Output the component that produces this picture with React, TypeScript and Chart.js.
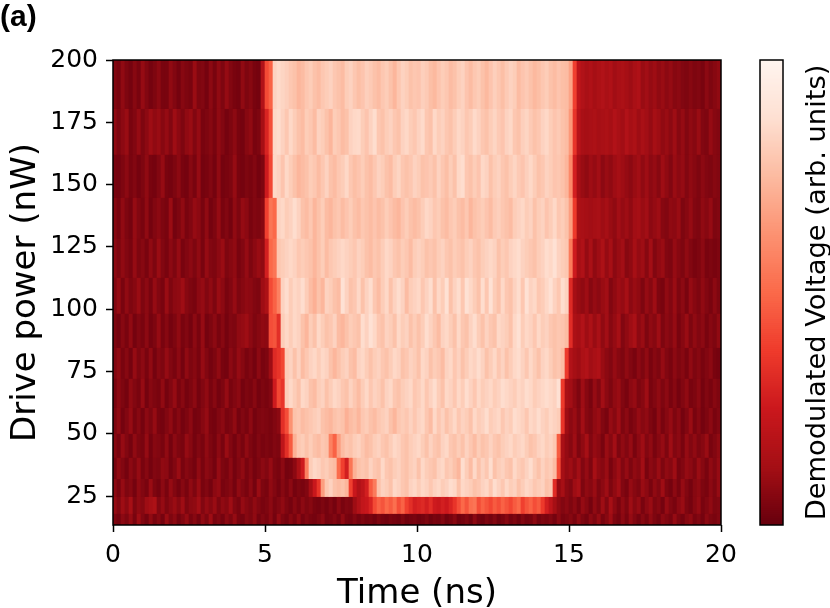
import React, { useEffect, useRef } from "react";
import { Chart, registerables } from "chart.js";

Chart.register(...registerables);

const FONT = "'DejaVu Sans'";
const xTicks = [0, 5, 10, 15, 20];
const yTicks = [25, 50, 75, 100, 125, 150, 175, 200];
const powerEdges = [200, 180.7, 162.3, 145.0, 128.6, 112.9, 98.5, 84.8, 72.4, 60.7, 50.3, 40.7, 32.2, 25.0, 18.2, 13.4];
const COLS = 152;
const VALUE_SCALE = 0.92;
const redsStops = ["#67000d", "#a50f15", "#cb181d", "#ef3b2c", "#fb6a4a", "#fc9272", "#fcbba1", "#fee0d2", "#fff5f0"];

const row01 = [
  6,4,9,5,3,7,4,10,6,3,5,8,4,4,9,6,3,7,5,4,11,5,6,3,8,4,9,5,10,6,4,3,9,5,7,4,3,18,
  45,52,90,93,91,89,86,84,80,82,86,88,84,82,86,88,90,86,84,82,88,90,86,83,85,89,87,84,82,86,88,84,80,86,90,88,84,86,
  85,89,87,83,81,85,88,86,82,84,88,90,85,82,86,88,84,81,85,89,86,83,87,90,88,82,85,87,84,81,83,86,88,84,82,85,83,82,
  74,42,22,18,15,17,14,16,18,15,17,13,15,16,14,12,15,17,11,13,10,12,9,11,8,10,7,8,6,5,7,5,6,4,8,5,7,9,
];
const row02 = [
  9,5,8,11,4,6,10,5,8,12,9,11,7,10,6,12,8,5,9,11,6,10,4,5,7,4,9,6,3,5,8,4,3,7,9,4,5,14,
  32,46,92,94,90,86,92,88,84,82,88,86,82,90,88,84,80,88,86,82,84,90,92,93,88,85,90,94,86,84,88,90,86,84,90,92,88,86,
  90,93,86,84,92,88,90,86,84,88,92,90,86,88,93,90,86,84,88,91,87,85,90,92,86,84,89,91,87,84,86,90,92,88,85,87,84,82,
  70,38,20,15,14,15,16,14,15,16,14,18,15,13,18,14,16,12,15,13,10,14,12,9,11,8,12,7,10,6,9,7,11,6,5,10,7,6,
];
const row03 = [
  4,3,5,8,4,6,3,5,9,4,3,6,10,4,3,5,8,4,3,7,4,10,3,4,6,3,9,3,4,5,10,4,3,5,4,6,3,5,
  28,44,92,90,85,92,88,84,80,82,84,88,86,82,86,90,84,82,86,88,92,86,83,85,88,84,82,86,90,88,84,82,88,91,86,84,86,90,
  88,84,85,87,84,90,86,83,88,84,92,94,86,84,88,85,92,90,84,88,90,86,84,88,91,87,85,89,92,88,84,86,90,88,85,86,84,80,
  65,30,14,11,9,12,10,13,8,11,9,12,14,12,10,8,11,13,9,12,8,10,7,12,9,6,11,8,10,6,9,7,5,8,6,5,7,6,
];
const row04 = [
  7,4,9,5,3,10,6,4,9,3,6,8,5,4,11,3,5,9,4,6,10,8,4,9,3,5,10,4,6,3,9,5,10,8,4,6,5,7,
  42,58,54,90,92,88,90,94,90,84,82,86,80,84,88,82,80,84,86,82,85,88,84,82,86,84,82,85,82,84,88,85,82,80,85,88,84,82,
  84,88,92,90,86,88,84,82,86,88,84,82,86,80,84,86,88,85,82,87,89,86,84,82,88,90,92,88,90,84,88,90,85,88,92,86,88,84,
  72,40,16,15,14,13,14,15,12,14,11,9,13,10,12,9,13,14,11,13,8,10,12,7,6,9,8,11,5,7,10,6,5,9,7,10,5,6,
];
const row05 = [
  8,5,9,6,4,10,5,7,4,9,5,11,6,4,8,5,10,4,6,8,5,9,4,10,6,5,8,11,5,7,9,4,6,10,5,8,11,9,
  30,54,58,86,88,90,92,90,86,88,86,84,80,84,88,82,86,88,90,92,90,88,86,90,88,84,82,86,84,88,92,90,86,84,88,86,82,88,
  90,88,84,86,84,88,90,86,84,88,86,84,88,90,86,84,88,90,92,90,84,88,86,90,92,94,90,88,86,84,88,90,94,92,96,90,88,86,
  60,28,14,17,10,15,9,12,16,10,14,8,11,13,7,9,14,10,12,7,13,6,9,11,6,5,10,7,5,9,6,4,5,8,4,5,4,5,
];
const row06 = [
  6,10,4,9,5,7,11,5,8,4,10,6,4,11,5,8,9,12,7,5,4,8,10,6,9,5,11,8,4,6,10,5,7,9,8,6,5,12,
  16,45,52,62,90,94,88,92,90,94,88,82,78,84,80,90,88,84,82,96,90,84,86,92,84,90,94,86,82,88,92,84,90,94,90,82,88,90,
  92,86,90,94,84,92,88,96,84,90,94,86,96,92,88,84,94,86,96,88,84,92,86,84,90,94,86,96,90,92,86,88,92,96,90,86,94,90,
  34,14,11,9,12,7,10,8,11,13,6,9,12,10,14,8,11,9,5,10,7,12,5,4,9,6,11,5,8,4,10,7,5,9,6,4,8,5,
];
const row07 = [
  5,3,7,4,9,3,6,4,8,3,5,10,4,7,3,5,9,4,6,3,8,4,10,3,5,8,4,7,3,6,5,9,10,12,8,5,7,9,
  8,46,48,36,88,92,88,92,90,84,80,88,84,92,88,84,86,90,82,80,84,88,86,84,94,90,96,92,86,84,90,88,84,92,88,90,84,88,
  84,88,94,90,86,82,90,92,88,84,92,86,84,90,94,88,84,90,86,84,92,90,88,84,92,96,88,92,90,86,92,88,90,86,84,86,85,82,
  35,16,14,18,12,16,11,15,9,13,7,10,14,6,9,12,15,8,11,5,9,7,12,5,8,6,10,4,7,11,5,9,6,8,4,7,5,9,
];
const row08 = [
  6,9,4,7,3,10,5,8,4,9,3,7,5,10,6,4,8,3,9,5,7,4,10,6,3,5,9,4,3,8,5,10,7,4,6,3,8,4,
  5,12,34,38,44,88,90,84,90,82,86,90,92,88,92,90,84,80,84,88,90,84,82,90,92,88,84,88,90,86,84,88,92,90,84,86,90,88,
  84,92,90,84,88,86,82,90,92,86,90,84,88,92,90,94,90,84,88,92,86,90,84,88,92,94,90,86,92,88,84,90,92,88,84,86,82,40,
  18,14,12,16,18,13,15,17,11,8,6,10,7,5,9,6,4,8,5,9,4,7,5,10,6,4,8,5,7,4,9,5,7,4,6,8,4,3,
];
const row09 = [
  4,8,5,3,9,6,4,10,3,7,5,4,9,3,6,10,4,7,3,5,8,3,6,9,4,7,3,5,10,4,6,8,3,5,4,7,3,5,
  4,6,28,44,38,88,92,88,84,92,90,84,82,88,90,84,88,92,90,86,84,90,86,82,88,92,86,90,88,84,90,92,86,84,88,90,92,86,
  88,92,86,90,94,88,84,92,90,86,92,88,94,90,86,92,88,90,92,88,90,94,92,90,88,92,90,94,92,88,90,92,94,92,90,96,40,15,
  13,9,5,12,7,4,10,6,13,8,5,9,11,6,4,8,10,5,7,12,4,6,9,5,8,4,7,3,6,9,4,5,8,3,6,4,7,5,
];
const row10 = [
  5,9,3,6,10,4,7,3,8,5,10,4,3,6,9,4,7,3,5,8,3,4,7,10,4,3,6,8,4,5,9,3,6,4,8,3,5,6,
  5,4,6,8,36,46,68,84,86,82,84,86,88,90,84,82,80,84,86,84,78,82,84,80,86,88,84,82,86,88,90,84,80,86,88,86,90,86,
  90,92,86,82,92,86,90,84,88,92,86,90,88,84,92,88,90,94,88,90,92,86,90,88,94,92,90,86,92,90,94,90,88,92,90,88,38,12,
  8,11,6,13,7,5,9,11,6,4,10,7,12,5,8,4,6,10,7,9,5,3,9,4,7,10,5,8,3,6,11,4,7,3,5,8,4,6,
];
const row11 = [
  7,4,10,6,3,9,5,4,10,3,7,6,4,9,3,8,5,4,10,7,3,6,4,9,5,3,8,4,11,6,3,7,4,9,5,3,6,4,
  5,4,6,5,22,36,50,78,86,88,84,88,84,82,86,84,62,52,72,82,86,84,88,90,86,82,84,88,90,86,84,88,92,90,86,84,88,90,
  92,88,84,90,86,84,90,92,86,84,88,84,90,86,82,88,84,86,90,86,84,88,90,92,88,90,92,88,84,86,90,92,88,90,86,50,15,10,
  7,12,5,9,14,6,10,8,4,11,7,13,5,9,6,10,4,8,12,6,9,4,7,10,5,12,6,8,4,10,6,9,5,7,11,4,6,9,
];
const row12 = [
  4,9,6,3,8,5,10,4,7,3,6,5,9,8,3,6,11,4,7,5,3,9,4,8,6,3,10,5,4,8,3,6,9,4,7,3,5,8,
  6,10,5,4,8,3,4,8,16,28,62,88,92,90,86,88,84,82,55,42,30,58,78,84,86,84,90,86,84,92,86,84,88,90,86,84,88,90,
  84,92,88,86,84,90,92,86,88,84,80,94,88,82,92,84,90,86,94,84,88,90,86,84,92,88,86,90,94,88,84,90,86,88,82,45,14,10,
  12,8,13,6,10,5,14,9,7,11,4,8,12,6,10,5,9,7,13,4,8,6,11,5,9,7,12,4,6,10,8,5,11,7,4,9,6,10,
];
const row13 = [
  8,4,10,5,7,3,9,6,4,11,5,3,8,4,10,6,3,7,4,9,5,11,4,6,3,8,10,4,5,7,3,9,6,4,8,3,11,5,
  4,9,6,3,7,4,8,3,5,4,6,14,26,38,72,86,90,84,82,84,80,42,26,18,22,30,50,60,84,90,88,84,92,90,86,84,90,92,
  88,92,90,86,90,92,88,90,94,92,84,92,90,88,84,86,90,92,86,94,90,86,92,88,90,84,88,92,90,86,88,90,84,86,35,10,14,8,
  6,12,15,5,9,7,11,5,8,12,5,9,13,6,4,10,7,5,11,8,4,9,6,12,5,3,8,4,10,6,3,7,9,5,4,8,5,10,
];
const row14 = [
  10,6,12,8,14,5,9,7,12,14,16,6,10,5,8,11,7,12,5,8,9,13,6,10,7,11,5,9,7,12,6,4,10,7,5,9,6,4,
  5,8,4,6,9,5,3,7,4,8,5,7,4,3,5,3,6,3,8,4,6,5,12,18,24,26,32,45,52,48,54,50,56,46,52,42,36,30,
  32,34,30,35,28,26,30,27,32,38,46,54,48,56,58,46,52,48,44,50,46,52,48,44,50,54,42,48,52,46,50,40,30,22,14,9,6,8,
  5,8,4,10,7,3,9,5,12,6,14,8,4,9,5,12,7,10,4,8,11,5,7,3,10,6,4,8,11,5,3,7,10,4,6,9,5,6,
];
const row15 = [
  5,3,8,5,10,4,12,6,3,9,4,7,3,11,5,8,3,6,10,4,7,3,9,5,12,4,6,3,8,5,10,4,3,7,5,9,3,6,
  4,8,3,10,5,3,7,4,9,3,6,4,3,5,8,3,4,6,3,9,4,3,6,3,5,3,4,2,5,3,2,4,3,2,5,2,3,4,
  2,3,5,2,4,3,6,2,4,7,2,3,5,2,8,3,2,5,3,6,2,4,7,3,5,2,6,3,4,8,3,5,4,6,3,8,4,5,
  7,4,9,5,3,8,5,10,4,7,12,5,3,8,4,10,6,3,7,4,9,5,3,8,6,4,10,5,3,7,9,4,6,3,8,5,4,6,
];
const rows = [row01, row02, row03, row04, row05, row06, row07, row08, row09, row10, row11, row12, row13, row14, row15];

function reds(v: number): string {
  const p = Math.max(0, Math.min(100, v)) / 12.5;
  const i = Math.min(7, Math.floor(p));
  const f = p - i;
  const hex = (s: string, o: number) => parseInt(s.slice(o, o + 2), 16);
  const mix = (o: number) => Math.round(hex(redsStops[i], o) * (1 - f) + hex(redsStops[i + 1], o) * f);
  return `rgb(${mix(1)},${mix(3)},${mix(5)})`;
}

const frame = {
  id: "frame",
  afterDatasetsDraw(chart: any) {
    const { ctx, chartArea: a } = chart;
    ctx.save();
    ctx.strokeStyle = "#000";
    ctx.lineWidth = 1.5;
    ctx.strokeRect(a.left, a.top, a.right - a.left, a.bottom - a.top);
    ctx.restore();
  },
};

const colorbarLabel = {
  id: "colorbarLabel",
  afterDraw(chart: any) {
    const { ctx, chartArea: a } = chart;
    ctx.save();
    ctx.translate(a.right + 35, (a.top + a.bottom) / 2);
    ctx.rotate(-Math.PI / 2);
    ctx.fillStyle = "#000";
    ctx.font = `27.3px ${FONT}`;
    ctx.textAlign = "center";
    ctx.textBaseline = "middle";
    ctx.fillText("Demodulated Voltage (arb. units)", 0, 0);
    ctx.restore();
  },
};

export default function App() {
  const mainRef = useRef<HTMLCanvasElement>(null);
  const barRef = useRef<HTMLCanvasElement>(null);

  useEffect(() => {
    const bad = rows.map((r, i) => [i + 1, r.length]).filter((e) => e[1] !== COLS);
    if (bad.length) throw new Error("row lengths " + JSON.stringify(bad));
    const dt = 20 / COLS;
    const datasets = rows.map((vals, r) => ({
      data: vals.map((_, k) => ({ x: (k + 0.5) * dt, y: [powerEdges[r + 1] - 0.2, powerEdges[r]] })),
      backgroundColor: vals.map((v) => reds(v * VALUE_SCALE)),
      borderWidth: 0,
      grouped: false,
      barPercentage: 1,
      categoryPercentage: 1,
    }));
    const main = new Chart(mainRef.current!, {
      type: "bar",
      data: { datasets } as any,
      options: {
        animation: false,
        responsive: false,
        events: [],
        layout: { padding: { top: 0, right: 109, left: 0, bottom: 0 } },
        plugins: {
          legend: { display: false },
          tooltip: { enabled: false },
          title: {
            display: true,
            text: "(a)",
            align: "start",
            color: "#000",
            font: { family: "'Liberation Sans'", size: 30, weight: "bold" },
            padding: { top: 0, bottom: 24 },
          },
        },
        scales: {
          x: {
            type: "linear",
            min: 0,
            max: 20,
            offset: false,
            grid: { offset: false, display: true, drawOnChartArea: false, drawTicks: true, tickLength: 7, tickWidth: 1.5, tickColor: "#000" },
            border: { display: false },
            afterBuildTicks: (s: any) => { s.ticks = xTicks.map((value) => ({ value })); },
            afterFit: (s: any) => { s.height = 83; },
            ticks: { color: "#000", font: { family: FONT, size: 25 }, padding: 8, maxRotation: 0, autoSkip: false },
            title: { display: true, text: "Time (ns)", color: "#000", font: { family: FONT, size: 34 }, padding: { top: 2, bottom: -7 } },
          },
          y: {
            type: "linear",
            min: 13.4,
            max: 200,
            grid: { display: true, drawOnChartArea: false, drawTicks: true, tickLength: 7, tickWidth: 1.5, tickColor: "#000" },
            border: { display: false },
            afterBuildTicks: (s: any) => { s.ticks = yTicks.map((value) => ({ value })); },
            afterFit: (s: any) => { s.width = 113; },
            ticks: { color: "#000", font: { family: FONT, size: 25 }, padding: 8, autoSkip: false },
            title: { display: true, text: "Drive power (nW)", color: "#000", font: { family: FONT, size: 34 }, padding: { top: 6, bottom: 0 } },
          },
        },
      } as any,
      plugins: [frame],
    });

    const levels = Array.from({ length: 233 }, (_, i) => i);
    const bar = new Chart(barRef.current!, {
      type: "bar",
      data: {
        labels: ["bar"],
        datasets: levels.map((l) => ({
          data: [[(l / 233) * 100 - 0.1, ((l + 1) / 233) * 100]],
          backgroundColor: reds(((l + 0.5) / 233) * 100),
          borderWidth: 0,
          grouped: false,
          barPercentage: 1,
          categoryPercentage: 1,
        })),
      } as any,
      options: {
        animation: false,
        responsive: false,
        events: [],
        layout: { padding: { left: 760, right: 47, top: 60, bottom: 83 } },
        plugins: { legend: { display: false }, tooltip: { enabled: false } },
        scales: {
          x: { display: false },
          y: { display: false, min: 0, max: 100 },
        },
      } as any,
      plugins: [frame, colorbarLabel],
    });
    return () => {
      main.destroy();
      bar.destroy();
    };
  }, []);

  return (
    <div style={{ position: "absolute", left: 0, top: 0, width: 830, height: 608, background: "#fff" }}>
      <canvas ref={mainRef} width={830} height={608} style={{ position: "absolute", left: 0, top: 0 }} />
      <canvas ref={barRef} width={830} height={608} style={{ position: "absolute", left: 0, top: 0 }} />
    </div>
  );
}
